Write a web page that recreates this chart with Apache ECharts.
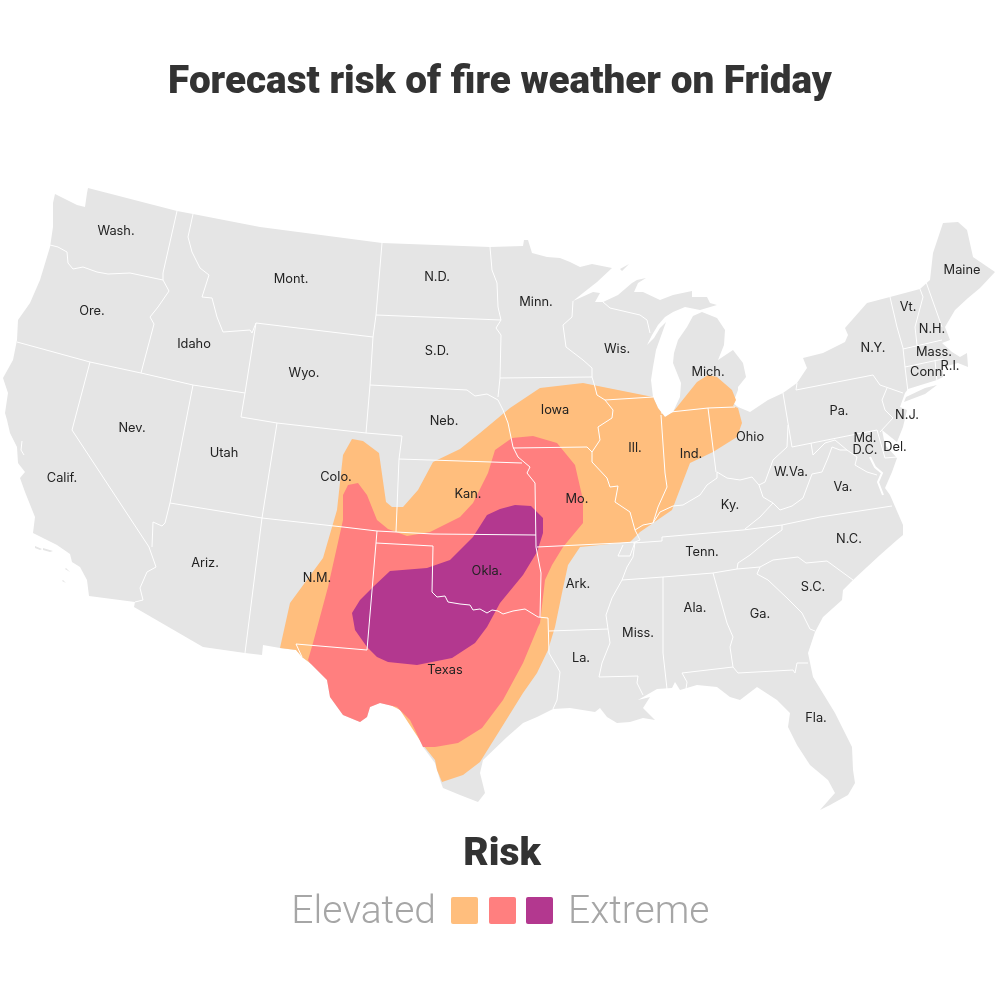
<!DOCTYPE html>
<html>
<head>
<meta charset="utf-8">
<style>html,body{margin:0;padding:0;background:#fff}#chart{width:1000px;height:1000px}</style>
<script src="https://cdn.jsdelivr.net/npm/echarts@6/dist/echarts.min.js"></script>
</head>
<body>
<div id="chart"></div>
<script>
// map outlines, in map units [x, y], y growing south
var landOutline = [
  [88,188],[177,211],[193,214],[260,227],[382,243],[490,247],[523,246],[524,240],[528,240],[532,253],[547,257],[560,258],[570,262],[580,267],[592,264],[612,268],
  [597,282],[583,293],[573,301],[593,292],[600,293],[595,302],[603,302],[618,295],[632,283],[637,280],[646,278],[638,283],[634,292],[643,292],[660,300],[673,295],[692,291],[692,297],[707,297],[710,303],[717,305],
  [700,310],[685,307],[673,312],[665,317],[658,325],[652,335],[647,345],[654,338],[660,328],[666,322],[661,336],[656,350],[653,367],[651,380],[653,397],[658,408],[665,417],[673,412],[680,397],[681,383],[673,363],[674,353],[678,340],[687,327],[693,316],[702,312],
  [717,318],[725,330],[724,345],[718,360],[733,350],[743,363],[746,377],[738,387],[738,390],[733,403],[738,407],[750,412],[768,400],
  [783,393],[797,383],[807,368],[803,358],[823,353],[845,342],[848,335],[845,328],[867,303],[890,297],[920,289],[930,280],[933,253],[943,223],[958,222],[967,230],[973,257],[995,272],[980,288],[968,298],[955,310],[945,327],[950,340],[942,343],[952,352],[960,357],[967,353],[968,367],[958,363],[943,367],[943,377],[937,380],[908,389],[905,393],
  [900,407],[907,410],[903,427],[897,442],[882,430],[885,445],[897,458],[892,472],[885,488],[890,495],[903,525],[903,535],[897,540],[880,555],[867,567],[853,580],[843,590],[842,600],[823,617],[815,632],[808,653],[813,677],[835,713],[852,747],[853,770],[855,783],[848,795],[830,805],[820,810],[835,793],[828,780],[810,765],[797,745],[788,727],[790,713],[777,700],[757,687],[740,700],[730,697],[717,687],[697,685],[680,690],[675,682],[672,688],[657,689],[638,700],[650,697],[643,708],[655,720],[643,718],[630,722],[617,723],[607,717],[600,708],[595,712],[570,708],[553,709],[537,717],[523,723],[507,737],[483,760],[480,773],[485,793],[478,802],[460,795],[443,788],[440,780],[435,763],[423,747],[415,730],[410,720],[397,707],[380,703],[370,707],[367,717],[360,722],[343,715],[330,697],[327,680],[310,663],[302,657],[296,650],[280,648],[263,645],[262,655],[245,653],[203,647],[134,607],[135,602],[89,596],[87,580],[80,567],[72,562],[70,554],[57,545],[43,538],[33,533],[35,517],[25,492],[20,478],[25,472],[18,463],[17,447],[10,433],[7,420],[5,413],[8,393],[3,378],[13,360],[17,340],[18,320],[30,303],[40,280],[50,247],[53,227],[53,203],[55,194],[77,205],[85,207],[87,193]
];
var longIsland = [[906,397],[925,388],[937,385],[925,394],[904,402]];
var channelIslandA = [[35,546],[42,549],[40,550],[35,548]];
var channelIslandB = [[43,548],[53,551],[50,552],[43,550]];
var channelIslandC = [[66,568],[70,572],[69,573],[65,569]];
var channelIslandD = [[63,580],[66,583],[65,584],[62,581]];
var isleRoyale = [[620,269],[629,264],[630,265],[622,271]];

// state lines and rivers
var stateBorders = [
  [[50,245],[58,247],[67,252],[68,263],[73,269],[83,267],[97,272],[108,274],[130,273],[163,280]],
  [[177,211],[163,273],[163,280],[169,291],[158,307],[150,317],[154,324],[141,373]],
  [[17,342],[90,362],[141,373],[193,385],[245,393]],
  [[193,214],[188,237],[192,252],[200,268],[209,275],[202,297],[212,298],[217,317],[223,332],[250,330],[252,333],[256,323]],
  [[256,323],[245,393],[241,417],[277,423],[366,433],[402,436],[399,459],[396,532]],
  [[256,323],[373,337]],
  [[382,243],[376,315],[373,337],[370,385],[366,433]],
  [[376,315],[501,320]],
  [[370,385],[467,390],[475,396],[487,394],[498,400],[503,410],[508,423],[513,447],[518,457],[530,467],[527,473],[535,483],[536,547],[541,573],[540,617]],
  [[490,247],[492,270],[497,283],[498,307],[501,320],[496,328],[501,335],[500,378],[498,397]],
  [[500,378],[592,377]],
  [[193,385],[170,503],[165,523],[162,526],[153,522],[152,547]],
  [[90,362],[72,430],[149,547],[156,567],[147,572],[140,588],[143,600],[135,602]],
  [[170,503],[262,518],[343,527],[377,531],[396,532],[433,534],[536,535]],
  [[277,423],[262,518],[245,653]],
  [[377,531],[376,543],[367,650],[296,644],[302,657]],
  [[376,543],[433,546],[432,592],[437,597],[445,596],[448,602],[460,604],[470,605],[473,610],[480,609],[487,613],[492,610],[498,611],[503,614],[513,611],[525,609],[538,617],[548,618],[549,653],[560,672],[557,700],[553,709]],
  [[399,459],[522,463]],
  [[513,448],[587,447]],
  [[537,547],[620,543],[635,542]],
  [[623,545],[618,556],[630,556],[635,542]],
  [[549,631],[608,629]],
  [[592,377],[595,387],[597,395],[605,400],[613,410],[612,418],[598,427],[600,440],[592,452],[592,462],[607,478],[610,487],[618,486],[615,502],[630,512],[635,530],[640,540],[635,542],[633,557],[627,567],[622,580],[612,598],[606,615],[608,629],[610,643],[602,663],[599,677],[638,676],[637,683],[643,695]],
  [[587,447],[592,452]],
  [[605,400],[653,397]],
  [[573,301],[572,317],[563,325],[566,347],[583,360],[592,368],[592,377]],
  [[603,302],[610,308],[640,315],[647,320],[650,333]],
  [[661,415],[665,473],[667,487],[658,507],[653,523]],
  [[635,530],[643,525],[653,523],[660,512],[673,506],[683,505],[700,495],[707,485],[717,478],[717,472],[727,478],[740,480],[752,477],[759,485],[763,497],[773,503],[780,510],[792,506],[803,498],[812,474],[822,472],[828,458],[832,447],[840,450],[847,450],[857,457],[855,465],[867,472],[877,475]],
  [[708,408],[716,472]],
  [[661,413],[708,408],[735,407]],
  [[783,393],[792,447],[877,430],[885,458],[897,457]],
  [[788,425],[787,447],[773,460],[765,482],[759,485]],
  [[811,443],[813,455],[825,443],[835,440],[847,450]],
  [[773,503],[760,517],[745,529]],
  [[633,543],[662,541],[662,537],[743,530],[782,525],[820,517],[892,506]],
  [[782,525],[782,530],[768,540],[750,555],[738,563],[737,569]],
  [[622,580],[663,577],[713,573],[737,569],[760,567],[773,560],[798,557],[806,563],[827,561],[853,580]],
  [[760,567],[757,574],[768,580],[787,598],[802,613],[810,629],[815,631]],
  [[713,573],[727,623],[733,637],[730,647],[733,667],[738,673],[793,670],[795,673],[797,663],[808,663]],
  [[733,667],[682,673],[687,682],[686,689]],
  [[663,577],[663,653],[667,689]],
  [[797,383],[796,390],[873,375],[880,385],[903,393]],
  [[887,388],[882,400],[885,410],[893,418],[880,432]],
  [[890,297],[897,327],[903,348],[905,367],[908,392]],
  [[920,289],[923,297],[915,327],[917,345]],
  [[903,349],[942,340]],
  [[905,367],[943,359]],
  [[935,360],[937,382]],
  [[926,282],[942,327]],
  [[22,441],[21,450],[24,455]]
];
var chesapeakeBay = [[870,457],[875,467],[882,473],[878,482],[883,495]];

// fire weather areas
var elevatedArea = [
  [280,648],[290,603],[323,558],[337,510],[343,455],[352,439],[363,441],[379,453],[386,502],[392,507],[403,507],[418,490],[433,462],[460,449],[480,433],[510,408],[540,388],[583,383],[633,393],[653,397],[658,408],[665,417],[673,412],[697,382],[708,375],[717,377],[732,390],[736,400],[733,406],[738,408],[742,423],[737,437],[713,452],[690,463],[677,497],[672,510],[640,532],[630,542],[580,547],[568,565],[562,593],[555,627],[548,650],[537,673],[523,693],[500,730],[480,762],[463,775],[442,782],[437,770],[435,760],[423,745],[400,710],[310,663],[302,657],[296,650]
];
var criticalArea = [
  [308,660],[313,643],[328,587],[343,520],[343,495],[348,485],[358,483],[367,495],[377,520],[388,529],[407,536],[430,532],[460,517],[473,503],[488,473],[495,450],[512,438],[533,436],[557,443],[575,465],[583,500],[583,523],[563,547],[552,565],[545,580],[540,623],[538,627],[523,663],[503,700],[482,728],[458,743],[435,747],[423,747],[415,730],[410,720],[397,707],[380,703],[370,707],[367,717],[360,722],[343,715],[330,697],[327,680],[310,663]
];
var extremeArea = [
  [390,571],[427,568],[450,560],[473,537],[487,515],[500,509],[515,505],[531,506],[543,518],[543,533],[537,552],[523,575],[500,603],[487,627],[475,643],[452,658],[417,665],[388,662],[377,657],[367,647],[355,630],[352,613],[360,600],[373,587]
];

// state labels
var stateNames = ['Wash.','Ore.','Calif.','Nev.','Idaho','Mont.','Wyo.','Utah','Ariz.','Colo.','N.M.','N.D.','S.D.','Neb.','Kan.','Okla.','Texas','Minn.','Iowa','Mo.','Ark.','La.','Wis.','Ill.','Ind.','Mich.','Ohio','Ky.','Tenn.','Miss.','Ala.','Ga.','Fla.','S.C.','N.C.','Va.','W.Va.','Pa.','N.Y.','N.J.','Md.','D.C.','Del.','Conn.','R.I.','Mass.','N.H.','Vt.','Maine'];
var stateX = [116,92,62,132,194,291,304,224,205,336,317,437,437,444,468,487,445,536,555,577,578,581,617,635,691,708,750,730,702,638,695,760,816,813,849,843,791,839,873,907,865,865,895,928,950,934,932,908,962];
var stateY = [231,311,478,428,344,279,373,453,563,477,578,277,351,421,494,571,670,302,410,499,584,658,349,448,454,372,437,505,552,633,608,614,718,587,539,487,472,411,348,415,438,450,447,372,366,352,329,307,270];

var legendLabels = ['Elevated', 'Extreme'];
var legendColors = ['#ffbe7d', '#ff7f7f', '#b3388f'];

function flip(ring) {
  return ring.map(function (p) { return [p[0], -p[1]]; });
}

function feature(name, rings) {
  return {
    type: 'Feature',
    properties: { name: name },
    geometry: {
      type: 'MultiPolygon',
      coordinates: rings.map(function (r) { return [flip(r)]; })
    }
  };
}

echarts.registerMap('usa', {
  type: 'FeatureCollection',
  features: [
    feature('land', [landOutline, longIsland, channelIslandA, channelIslandB, channelIslandC, channelIslandD, isleRoyale]),
    feature('elevated', [elevatedArea]),
    feature('critical', [criticalArea]),
    feature('extreme', [extremeArea])
  ]
});

var myChart = echarts.init(document.getElementById('chart'), null, { renderer: 'canvas' });

var labelData = stateNames.map(function (n, i) {
  return { name: n, value: [stateX[i], -stateY[i]] };
});

var option = {
  animation: false,
  backgroundColor: '#fff',
  title: {
    text: 'Forecast risk of fire weather on Friday',
    left: 'center',
    top: 59,
    textStyle: { fontFamily: 'Roboto', fontWeight: 900, fontSize: 38.7, color: '#333' }
  },
  geo: {
    map: 'usa',
    silent: true,
    aspectScale: 1,
    boundingCoords: [[0, 0], [1000, -1000]],
    layoutCenter: ['50%', '50%'],
    layoutSize: 1000,
    roam: false,
    label: { show: false },
    itemStyle: { areaColor: '#e5e5e5', borderWidth: 0 },
    regions: [
      { name: 'elevated', itemStyle: { areaColor: legendColors[0] } },
      { name: 'critical', itemStyle: { areaColor: legendColors[1] } },
      { name: 'extreme', itemStyle: { areaColor: legendColors[2] } }
    ]
  },
  series: [
    {
      type: 'lines',
      coordinateSystem: 'geo',
      polyline: true,
      silent: true,
      lineStyle: { color: '#fff', width: 1, opacity: 1, curveness: 0 },
      data: stateBorders.map(function (b) { return { coords: flip(b) }; }),
      z: 3
    },
    {
      type: 'lines',
      coordinateSystem: 'geo',
      polyline: true,
      silent: true,
      lineStyle: { color: '#fff', width: 2, opacity: 1, curveness: 0 },
      data: [{ coords: flip(chesapeakeBay) }],
      z: 3
    },
    {
      type: 'scatter',
      coordinateSystem: 'geo',
      silent: true,
      symbolSize: 0,
      data: labelData,
      z: 4,
      label: {
        show: true,
        position: 'inside',
        formatter: '{b}',
        fontFamily: 'Inter',
        fontSize: 12.8,
        color: '#222',
        opacity: 1
      }
    }
  ],
  graphic: [
    { type: 'text', x: 502, y: 855, style: { text: 'Risk', textAlign: 'center', textVerticalAlign: 'middle', fontFamily: 'Roboto', fontWeight: 900, fontSize: 39, fill: '#333' } },
    { type: 'text', x: 436, y: 913, style: { text: legendLabels[0], textAlign: 'right', textVerticalAlign: 'middle', fontFamily: 'Roboto', fontWeight: 300, fontSize: 39, fill: '#a6a6a6' } },
    { type: 'rect', shape: { x: 451, y: 897, width: 27, height: 27, r: 2 }, style: { fill: legendColors[0] } },
    { type: 'rect', shape: { x: 489, y: 897, width: 27, height: 27, r: 2 }, style: { fill: legendColors[1] } },
    { type: 'rect', shape: { x: 526, y: 897, width: 27, height: 27, r: 2 }, style: { fill: legendColors[2] } },
    { type: 'text', x: 568, y: 913, style: { text: legendLabels[1], textVerticalAlign: 'middle', fontFamily: 'Roboto', fontWeight: 300, fontSize: 39, fill: '#a6a6a6' } }
  ]
};

myChart.setOption(option);

window.addEventListener('resize', myChart.resize);
</script>
</body>
</html>
